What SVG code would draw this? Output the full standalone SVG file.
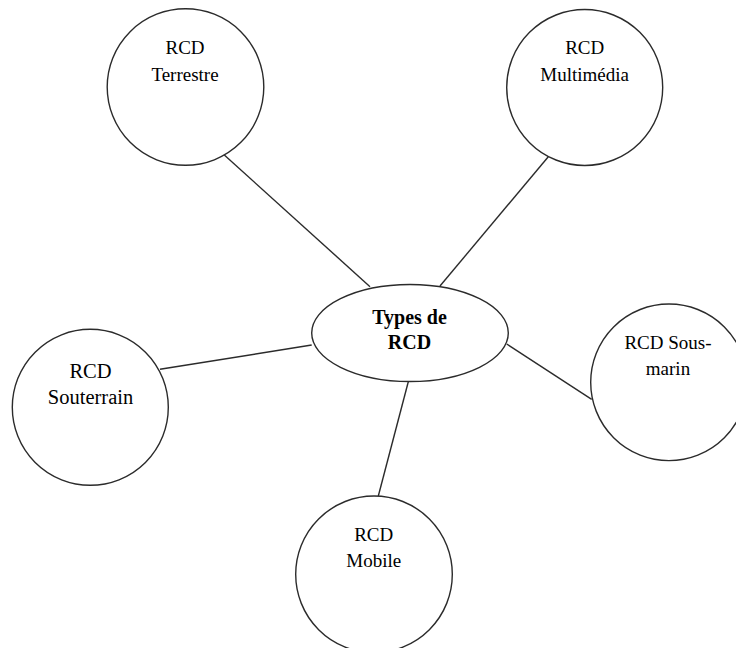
<svg xmlns="http://www.w3.org/2000/svg" width="736" height="648" viewBox="0 0 736 648">
<style>
.node{fill:#fff;stroke:#2b2b2b;stroke-width:1.4}
.edge{stroke:#2b2b2b;stroke-width:1.4;fill:none}
text{font-family:"Liberation Serif","Times New Roman",serif;font-size:19px;fill:#000;text-anchor:middle}
.b{font-weight:bold;font-size:20px}
</style>
<rect width="736" height="648" fill="#fff"/>
<g id="connectors">
<line class="edge" x1="224.3" y1="155" x2="370" y2="286.7"/>
<line class="edge" x1="548.3" y1="156.7" x2="440" y2="286"/>
<line class="edge" x1="160" y1="369.3" x2="311.7" y2="345"/>
<line class="edge" x1="506.7" y1="344" x2="591.7" y2="399.3"/>
<line class="edge" x1="408.3" y1="381.7" x2="378.3" y2="496"/>
</g>
<g id="node-center">
<ellipse class="node" cx="410" cy="333" rx="98.3" ry="48.5"/>
<text class="b" x="409.5" y="323.5">Types de</text>
<text class="b" x="409.5" y="349">RCD</text>
</g>
<g id="node-terrestre">
<circle class="node" cx="185.5" cy="87" r="78.3"/>
<text x="185" y="54">RCD</text>
<text x="185" y="81">Terrestre</text>
</g>
<g id="node-multimedia">
<circle class="node" cx="584.7" cy="87.5" r="78"/>
<text x="584.7" y="54">RCD</text>
<text x="584.7" y="81">Multimédia</text>
</g>
<g id="node-souterrain">
<circle class="node" cx="90.3" cy="407.3" r="78"/>
<text x="90.5" y="377.7" style="font-size:20.5px">RCD</text>
<text x="90.5" y="404" style="font-size:20.5px">Souterrain</text>
</g>
<g id="node-sousmarin">
<circle class="node" cx="669" cy="382.3" r="78.3"/>
<text x="668" y="349.3">RCD Sous-</text>
<text x="668" y="375">marin</text>
</g>
<g id="node-mobile">
<circle class="node" cx="374" cy="574.3" r="78.3"/>
<text x="373.7" y="541">RCD</text>
<text x="373.7" y="567.3">Mobile</text>
</g>
</svg>
